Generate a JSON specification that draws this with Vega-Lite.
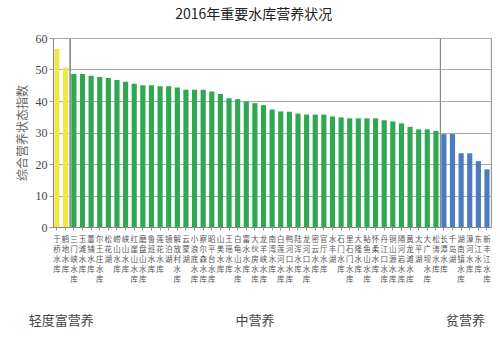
{
  "$schema": "https://vega.github.io/schema/vega-lite/v6.json",
  "background": "white",
  "padding": {"left": 16, "top": 8, "right": 5, "bottom": 5},
  "bounds": "flush",
  "title": {"text": "2016年重要水库营养状况", "fontSize": 14, "font": "Noto Sans CJK SC", "fontWeight": "normal", "color": "#222", "offset": 10, "anchor": "middle"},
  "data": {"values": [
    {"name": "于桥水库", "group": "轻度富营养", "value": 56.5},
    {"name": "鹤地水库", "group": "轻度富营养", "value": 50.6},
    {"name": "三门峡水库", "group": "中营养", "value": 48.6},
    {"name": "玉滩水库", "group": "中营养", "value": 48.6},
    {"name": "董铺水库", "group": "中营养", "value": 48.0},
    {"name": "尔王庄水库", "group": "中营养", "value": 47.6},
    {"name": "松花湖", "group": "中营养", "value": 47.3},
    {"name": "崂山水库", "group": "中营养", "value": 46.7},
    {"name": "峡山水库", "group": "中营养", "value": 46.1},
    {"name": "红崖山水库", "group": "中营养", "value": 45.5},
    {"name": "磨盘山水库", "group": "中营养", "value": 45.0},
    {"name": "鲁班水库", "group": "中营养", "value": 45.0},
    {"name": "莲花水库", "group": "中营养", "value": 44.7},
    {"name": "镜泊湖", "group": "中营养", "value": 44.7},
    {"name": "解放村水库", "group": "中营养", "value": 44.3},
    {"name": "云蒙湖", "group": "中营养", "value": 43.6},
    {"name": "小浪底水库", "group": "中营养", "value": 43.6},
    {"name": "察尔森水库", "group": "中营养", "value": 43.6},
    {"name": "昭平台水库", "group": "中营养", "value": 43.0},
    {"name": "山美水库", "group": "中营养", "value": 42.2},
    {"name": "王瑶水库", "group": "中营养", "value": 40.9},
    {"name": "白龟山水库", "group": "中营养", "value": 40.6},
    {"name": "富水水库", "group": "中营养", "value": 39.8},
    {"name": "大伙房水库", "group": "中营养", "value": 39.3},
    {"name": "龙羊峡水库", "group": "中营养", "value": 38.7},
    {"name": "南湾水库", "group": "中营养", "value": 37.3},
    {"name": "白莲河水库", "group": "中营养", "value": 36.7},
    {"name": "鸭河口水库", "group": "中营养", "value": 36.6},
    {"name": "陆浑水库", "group": "中营养", "value": 36.0},
    {"name": "龙河口水库", "group": "中营养", "value": 35.7},
    {"name": "密云水库", "group": "中营养", "value": 35.7},
    {"name": "官厅水库", "group": "中营养", "value": 35.7},
    {"name": "水丰湖", "group": "中营养", "value": 35.1},
    {"name": "石门水库", "group": "中营养", "value": 34.8},
    {"name": "里石门水库", "group": "中营养", "value": 34.5},
    {"name": "大隆水库", "group": "中营养", "value": 34.5},
    {"name": "鲇鱼山水库", "group": "中营养", "value": 34.5},
    {"name": "怀柔水库", "group": "中营养", "value": 34.5},
    {"name": "丹江口水库", "group": "中营养", "value": 33.9},
    {"name": "铜山源水库", "group": "中营养", "value": 33.5},
    {"name": "隔河岩水库", "group": "中营养", "value": 32.9},
    {"name": "黄龙滩水库", "group": "中营养", "value": 31.8},
    {"name": "太平湖", "group": "中营养", "value": 31.0},
    {"name": "大广坝水库", "group": "中营养", "value": 31.0},
    {"name": "松涛水库", "group": "中营养", "value": 30.5},
    {"name": "长潭水库", "group": "贫营养", "value": 29.5},
    {"name": "千岛湖", "group": "贫营养", "value": 29.5},
    {"name": "湖南镇水库", "group": "贫营养", "value": 23.4},
    {"name": "漳河水库", "group": "贫营养", "value": 23.4},
    {"name": "东江水库", "group": "贫营养", "value": 20.9},
    {"name": "新丰江水库", "group": "贫营养", "value": 18.3}
  ]},
  "facet": {
    "column": {
      "field": "group",
      "sort": ["轻度富营养", "中营养", "贫营养"],
      "header": {"title": null, "labelOrient": "bottom", "labelFontSize": 13, "labelFont": "Noto Sans CJK SC", "labelColor": "#444", "labelPadding": 88}
    }
  },
  "spacing": 0,
  "resolve": {"scale": {"x": "independent"}},
  "spec": {
    "width": {"step": 8.62},
    "height": 189,
    "mark": {"type": "bar"},
    "encoding": {
      "x": {
        "field": "name", "type": "nominal", "sort": null,
        "scale": {"paddingInner": 0.4, "paddingOuter": 0.15},
        "axis": {"title": null, "labelAngle": 0, "labelExpr": "split(datum.label, '')", "labelFontSize": 7.5, "labelLineHeight": 10, "labelBaseline": "top", "labelColor": "#555", "labelFont": "Noto Sans CJK SC", "tickSize": 3, "labelPadding": 5, "domainColor": "#888", "tickColor": "#999"}
      },
      "y": {
        "field": "value", "type": "quantitative",
        "scale": {"domain": [0, 60]},
        "axis": {"title": "综合营养状态指数", "values": [0, 10, 20, 30, 40, 50, 60], "titleFont": "Noto Sans CJK SC", "titleFontSize": 12, "titleFontWeight": "normal", "titleColor": "#666", "titlePadding": 6, "labelFont": "Liberation Serif", "labelFontSize": 12, "labelColor": "#444", "tickSize": 4, "tickColor": "#999", "domainColor": "#888", "gridColor": "#aaa"}
      },
      "color": {
        "field": "group", "type": "nominal",
        "scale": {"domain": ["轻度富营养", "中营养", "贫营养"], "range": ["#eee84c", "#30a852", "#4a7cbf"]},
        "legend": null
      }
    }
  },
  "config": {"view": {"stroke": "#888"}}
}
